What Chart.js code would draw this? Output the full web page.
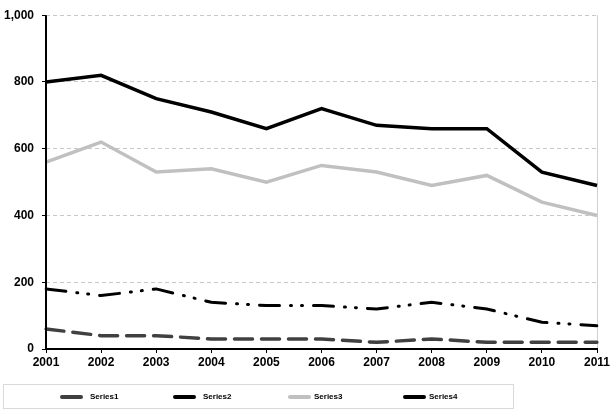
<!DOCTYPE html>
<html>
<head>
<meta charset="utf-8">
<script src="https://cdn.jsdelivr.net/npm/chart.js@4/dist/chart.umd.min.js"></script>
<style>
  html, body { margin: 0; padding: 0; background: #fff; }
  #wrap { width: 616px; height: 420px; }
</style>
</head>
<body>
<div id="wrap"><canvas id="chart" width="616" height="420"></canvas></div>
<script>
const years = ['2001', '2002', '2003', '2004', '2005', '2006', '2007', '2008', '2009', '2010', '2011'];
const series1 = [60, 40, 40, 30, 30, 30, 20, 30, 20, 20, 20];
const series2 = [180, 160, 180, 140, 130, 130, 120, 140, 120, 80, 70];
const series3 = [560, 620, 530, 540, 500, 550, 530, 490, 520, 440, 400];
const series4 = [800, 820, 750, 710, 660, 720, 670, 660, 660, 530, 490];
const seriesNames = ['Series1', 'Series2', 'Series3', 'Series4'];

const font = 'Liberation Sans, Arial, sans-serif';

// solid black value axis line (the grid dash would otherwise reach it)
const axisLine = {
  id: 'axisLine',
  afterDatasetsDraw(chart) {
    const c = chart.ctx;
    const a = chart.chartArea;
    const x = Math.round(a.left);
    c.save();
    c.strokeStyle = '#000';
    c.lineWidth = 2;
    c.setLineDash([]);
    c.beginPath();
    c.moveTo(x, a.top);
    c.lineTo(x, a.bottom + 1);
    c.stroke();
    c.restore();
  }
};

// legend drawn by hand in a box under the plot
const boxLegend = {
  id: 'boxLegend',
  afterDraw(chart) {
    const c = chart.ctx;
    c.save();
    c.strokeStyle = '#d9d9d9';
    c.lineWidth = 1;
    c.strokeRect(3.5, 384.5, 510, 24);
    const lineX = [62, 175, 290, 405];
    chart.data.datasets.forEach((ds, i) => {
      c.strokeStyle = ds.borderColor;
      c.lineWidth = 4;
      c.lineCap = 'round';
      c.setLineDash([]);
      c.beginPath();
      c.moveTo(lineX[i], 397);
      c.lineTo(lineX[i] + 19, 397);
      c.stroke();
      c.fillStyle = '#000';
      c.font = 'bold 8px ' + font;
      c.textBaseline = 'middle';
      c.fillText(ds.label, i < 2 ? lineX[i] + 28 : lineX[i] + 24, 397);
    });
    c.restore();
  }
};

let ctx = document.getElementById('chart').getContext('2d');
let chart = new Chart(ctx, {
  type: 'line',
  data: {
    labels: years,
    datasets: [{
        label: seriesNames[0],
        data: series1,
        borderColor: '#404040',
        borderWidth: 3.5,
        borderDash: [18, 9],
        borderCapStyle: 'round'
      },
      {
        label: seriesNames[1],
        data: series2,
        borderColor: '#000000',
        borderWidth: 3,
        borderDash: [20, 11, 1, 10, 1, 11],
        borderCapStyle: 'round'
      },
      {
        label: seriesNames[2],
        data: series3,
        borderColor: '#c0c0c0',
        borderWidth: 3.5
      },
      {
        label: seriesNames[3],
        data: series4,
        borderColor: '#000000',
        borderWidth: 3.5
      }
    ]
  },
  options: {
    responsive: false,
    animation: false,
    elements: {
      point: { radius: 0 },
      line: { tension: 0 }
    },
    layout: {
      padding: { top: 12, right: 19, bottom: 51, left: 0 }
    },
    plugins: {
      legend: { display: false },
      tooltip: { enabled: false }
    },
    scales: {
      x: {
        offset: false,
        afterFit(scale) { scale.height = 20; },
        grid: {
          color: (c) => c.index === years.length - 1 ? '#d0d0d0' : 'transparent',
          tickColor: '#000',
          tickLength: 4
        },
        border: { color: '#000', width: 2 },
        ticks: {
          color: '#000',
          font: { family: font, size: 12, weight: 'bold' },
          maxRotation: 0,
          autoSkip: false,
          padding: 2
        }
      },
      y: {
        min: 0,
        max: 1000,
        afterFit(scale) { scale.width = 46; },
        grid: {
          color: '#c8c8c8',
          tickColor: '#000',
          tickBorderDash: [],
          tickLength: 4
        },
        border: { display: false, dash: [4, 3] },
        ticks: {
          stepSize: 200,
          color: '#000',
          padding: 8,
          font: { family: font, size: 12, weight: 'bold' },
          callback: (v) => v.toLocaleString('en-US')
        }
      }
    }
  },
  plugins: [axisLine, boxLegend]
});
</script>
</body>
</html>
